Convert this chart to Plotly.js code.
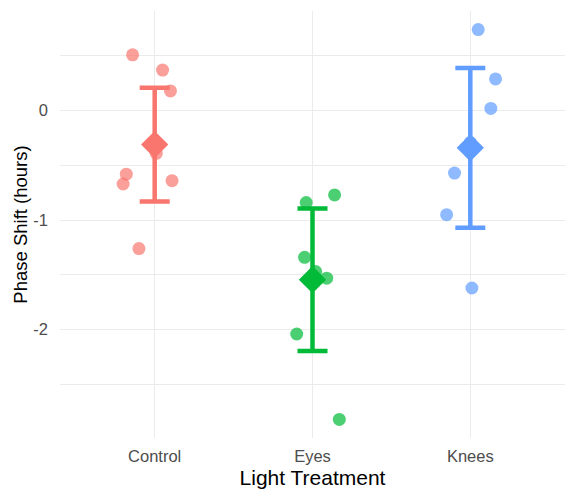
<!DOCTYPE html>
<html>
<head>
<meta charset="utf-8">
<script src="https://cdn.plot.ly/plotly-3.0.1.min.js"></script>
<style>body{margin:0;background:#fff}#grafica{width:576px;height:499px}</style>
</head>
<body>
<div id="grafica"></div>
<script>
// datos
var grupos = ['Control', 'Eyes', 'Knees'];
var colores = ['#F8766D', '#00BA38', '#619CFF'];

var control = [0.51, 0.37, 0.18, -0.39, -0.58, -0.67, -0.64, -1.26];
var eyes = [-0.84, -0.77, -1.34, -1.47, -1.53, -2.04, -2.82];
var knees = [0.74, 0.29, 0.02, -0.29, -0.57, -0.95, -1.62];

// desplazamiento horizontal (jitter) de cada punto
var jit_control = [-0.14, 0.05, 0.10, 0.01, -0.18, -0.20, 0.11, -0.10];
var jit_eyes = [-0.04, 0.14, -0.05, 0.02, 0.09, -0.10, 0.17];
var jit_knees = [0.05, 0.16, 0.13, 0.00, -0.10, -0.15, 0.01];

// semi-amplitud del intervalo de confianza 95%
var ic95 = [0.52, 0.65, 0.73];

var valores = [control, eyes, knees];
var jitters = [jit_control, jit_eyes, jit_knees];

function media(arr){
    var s = 0;
    for (var i = 0; i < arr.length; i++) s += arr[i];
    return s / arr.length;
}

function grafica_fase(){
    var fuente = 'Liberation Sans, Arial, Helvetica, sans-serif';
    var data = [];

    for (var g = 0; g < grupos.length; g++) {
        var xs = jitters[g].map(function(j){ return g + 1 + j; });
        data.push({
            x: xs,
            y: valores[g],
            type: 'scatter',
            mode: 'markers',
            marker: {size: 13, color: colores[g], opacity: 0.7},
            hoverinfo: 'skip'
        });
    }

    for (var g = 0; g < grupos.length; g++) {
        var m = media(valores[g]);
        data.push({
            x: [g + 1],
            y: [m],
            type: 'scatter',
            mode: 'markers',
            marker: {size: 1, color: 'rgba(0,0,0,0)'},
            error_y: {type: 'data', array: [ic95[g]], visible: true, color: colores[g], thickness: 4.5, width: 15},
            hoverinfo: 'skip'
        });
        data.push({
            x: [g + 1],
            y: [m],
            type: 'scatter',
            mode: 'markers',
            marker: {size: 21, symbol: 'diamond', color: colores[g], line: {width: 0}},
            hoverinfo: 'skip'
        });
    }

    var layout = {
        width: 576,
        height: 499,
        margin: {t: 11, b: 61, l: 60, r: 11},
        paper_bgcolor: '#FFFFFF',
        plot_bgcolor: '#FFFFFF',
        showlegend: false,
        hovermode: false,
        font: {family: fuente, size: 16, color: '#4D4D4D'},
        xaxis: {
            range: [0.4, 3.6],
            tickmode: 'array',
            tickvals: [1, 2, 3],
            ticktext: grupos,
            showgrid: true,
            gridcolor: '#EBEBEB',
            gridwidth: 1.1,
            zeroline: false,
            showline: false,
            ticks: '',
            ticklabelstandoff: 6,
            tickfont: {family: fuente, size: 16.5, color: '#4D4D4D'},
            title: {text: 'Light Treatment', font: {family: fuente, size: 21, color: '#000000'}, standoff: 6}
        },
        yaxis: {
            range: [-2.99, 0.91],
            tickmode: 'array',
            tickvals: [-2, -1, 0],
            ticktext: ['-2', '-1', '0'],
            showgrid: true,
            gridcolor: '#EBEBEB',
            gridwidth: 1.1,
            minor: {tickmode: 'array', tickvals: [-2.5, -1.5, -0.5, 0.5], showgrid: true, gridcolor: '#EBEBEB', gridwidth: 1, ticks: ''},
            zeroline: false,
            showline: false,
            ticks: '',
            ticklabelstandoff: 11,
            tickfont: {family: fuente, size: 16.5, color: '#4D4D4D'},
            title: {text: 'Phase Shift (hours)', font: {family: fuente, size: 18.5, color: '#000000'}, standoff: 0}
        }
    };

    Plotly.newPlot('grafica', data, layout, {staticPlot: true, displayModeBar: false});
}

grafica_fase();
</script>
</body>
</html>
